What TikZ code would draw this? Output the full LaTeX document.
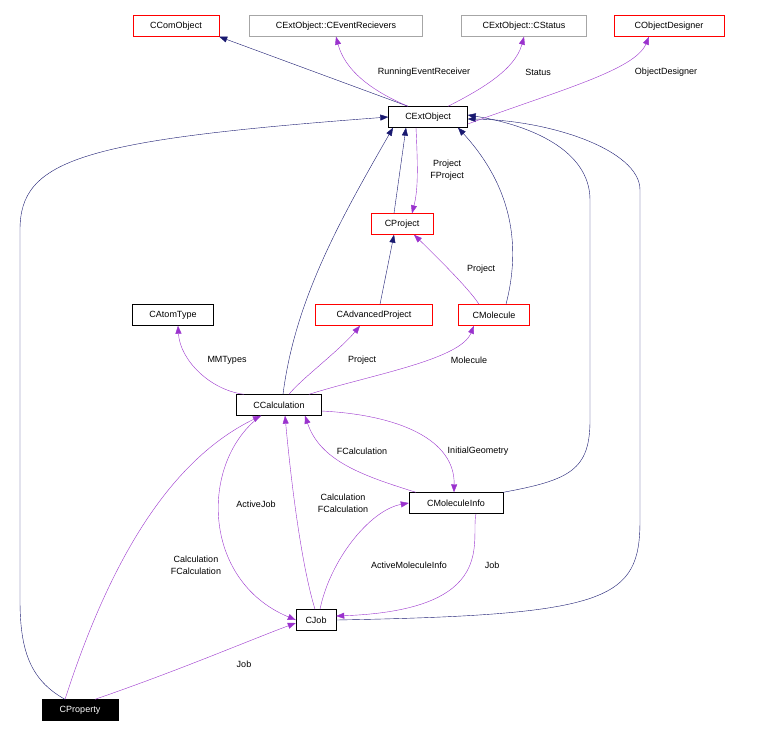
\documentclass[tikz,border=0pt]{standalone}
\usepackage{fontspec}
\setmainfont{Liberation Sans}
\usetikzlibrary{arrows.meta}
\definecolor{inhc}{RGB}{25,25,112}
\definecolor{usec}{RGB}{154,50,205}
\begin{document}
\begin{tikzpicture}[x=1pt,y=-1pt,
  box/.style={draw=black,fill=white,inner sep=0pt,minimum height=21pt,font=\fontsize{9}{10.5}\selectfont},
  red/.style={box,draw=red},
  gray/.style={box,draw=gray!70},
  inh/.style={draw=inhc,-{Triangle[length=8pt,width=6pt,fill=inhc]}},
  use/.style={draw=usec,-{Triangle[length=8pt,width=6pt,fill=usec]}},
  lab/.style={font=\fontsize{9}{12}\selectfont,align=center,inner sep=1pt}]
\useasboundingbox (0,0) rectangle (775,737);
\node[red,minimum width=86pt] (com) at (176,26) {CComObject};
\node[gray,minimum width=173pt] (evr) at (336,26) {CExtObject::CEventRecievers};
\node[gray,minimum width=125pt] (sta) at (524,26) {CExtObject::CStatus};
\node[red,minimum width=110pt] (des) at (669,26) {CObjectDesigner};
\node[box,minimum width=79pt] (ext) at (428,117) {CExtObject};
\node[red,minimum width=62pt] (proj) at (402,224) {CProject};
\node[box,minimum width=81pt] (atom) at (173,315) {CAtomType};
\node[red,minimum width=117pt] (adv) at (374,315) {CAdvancedProject};
\node[red,minimum width=71pt] (mol) at (494,315) {CMolecule};
\node[box,minimum width=85pt] (calc) at (279,405) {CCalculation};
\node[box,minimum width=94pt] (mi) at (456,503) {CMoleculeInfo};
\node[box,minimum width=40pt] (job) at (316,620) {CJob};
\node[box,fill=black,text=white,minimum width=76pt] (prop) at (80,710) {CProperty};
% inheritance
\draw[inh] ([xshift=-20pt]ext.north) -- (com.south east);
\draw[inh] ([xshift=-8pt]proj.north) -- ([xshift=-22pt]ext.south);
\draw[inh] ([xshift=6pt]adv.north) -- ([xshift=-8pt]proj.south);
\draw[inh] ([xshift=12pt]mol.north) .. controls (520,250) and (515,190) .. ([xshift=30pt]ext.south);
\draw[inh] ([xshift=4pt]calc.north) .. controls (295,300) and (340,220) .. ([xshift=-35pt]ext.south);
\draw[inh] (mi.north east) .. controls (570,480) and (590,470) .. (590,420) -- (590,200) .. controls (590,150) and (530,125) .. ([yshift=2pt]ext.east);
\draw[inh] (job.east) .. controls (610,615) and (640,600) .. (640,520) -- (640,190) .. controls (640,150) and (550,120) .. ([yshift=-2pt]ext.east);
\draw[inh] ([xshift=-15pt]prop.north) .. controls (30,680) and (20,650) .. (20,600) -- (20,230) .. controls (20,160) and (80,140) .. (ext.west);
% usage
\draw[use] ([xshift=-20pt]ext.north) .. controls (370,90) and (345,70) .. (evr.south);
\draw[use] ([xshift=20pt]ext.north) .. controls (480,90) and (515,70) .. (sta.south);
\draw[use] ([yshift=-7pt]ext.east) .. controls (560,90) and (635,70) .. ([xshift=-20pt]des.south);
\draw[use] ([xshift=-12pt]ext.south) .. controls (418,170) and (418,190) .. ([xshift=10pt]proj.north);
\draw[use] ([xshift=-15pt]mol.north) .. controls (470,290) and (440,260) .. ([xshift=12pt]proj.south);
\draw[use] ([xshift=-35pt]calc.north) .. controls (210,390) and (180,360) .. ([xshift=5pt]atom.south);
\draw[use] ([xshift=10pt]calc.north) .. controls (300,380) and (340,350) .. ([xshift=-14pt]adv.south);
\draw[use] ([xshift=30pt]calc.north) .. controls (370,375) and (460,360) .. ([xshift=-20pt]mol.south);
\draw[use] ([xshift=-40pt]mi.north) .. controls (360,475) and (320,460) .. ([xshift=26pt]calc.south);
\draw[use] ([yshift=-6pt]calc.east) .. controls (400,415) and (455,440) .. ([xshift=-2pt]mi.north);
\draw[use] ([xshift=-18pt]calc.south) .. controls (200,460) and (200,580) .. (job.west);
\draw[use] ([xshift=-1pt]job.north) .. controls (300,560) and (290,470) .. ([xshift=6pt]calc.south);
\draw[use] ([xshift=4pt]job.north) .. controls (330,560) and (370,510) .. (mi.west);
\draw[use] ([xshift=20pt]mi.south) .. controls (470,540) and (500,610) .. ([yshift=4pt]job.east);
\draw[use] ([xshift=-15pt]prop.north) .. controls (110,560) and (170,460) .. ([xshift=-18pt]calc.south);
\draw[use] ([xshift=15pt]prop.north) .. controls (180,670) and (250,640) .. ([yshift=-3pt]job.west);
% labels
\node[lab] at (424,72) {RunningEventReceiver};
\node[lab] at (538,72) {Status};
\node[lab] at (666,72) {ObjectDesigner};
\node[lab] at (447,170) {Project\\FProject};
\node[lab] at (481,269) {Project};
\node[lab] at (227,360) {MMTypes};
\node[lab] at (362,360) {Project};
\node[lab] at (469,360) {Molecule};
\node[lab] at (362,451) {FCalculation};
\node[lab] at (478,451) {InitialGeometry};
\node[lab] at (256,504) {ActiveJob};
\node[lab] at (343,503) {Calculation\\FCalculation};
\node[lab] at (409,565) {ActiveMoleculeInfo};
\node[lab] at (492,565) {Job};
\node[lab] at (196,565) {Calculation\\FCalculation};
\node[lab] at (244,664) {Job};
\end{tikzpicture}
\end{document}
